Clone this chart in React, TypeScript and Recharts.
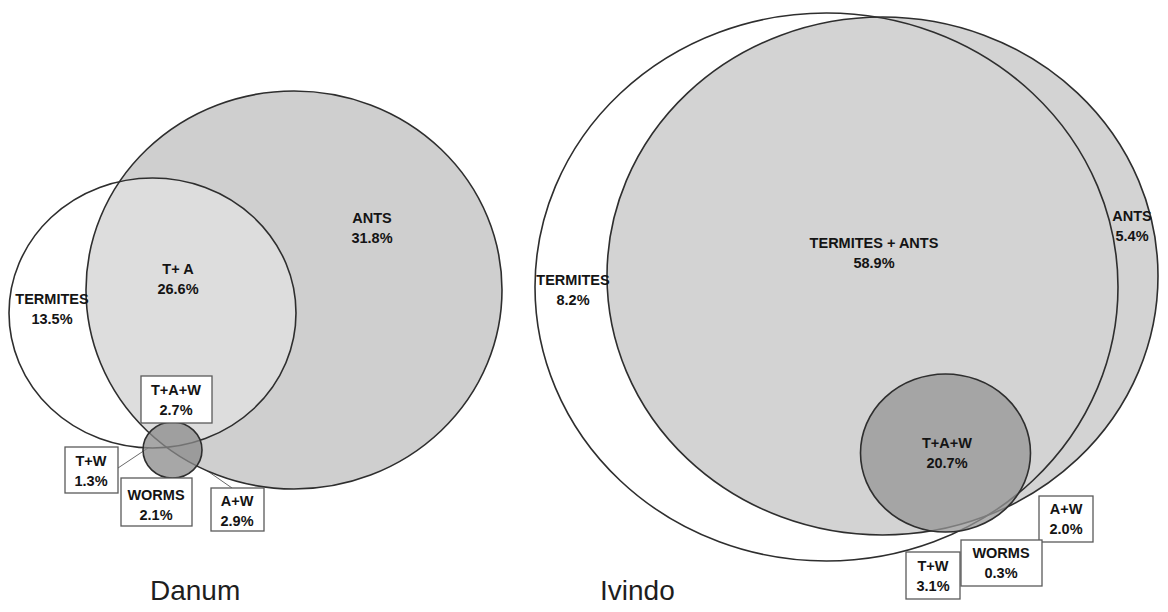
import React from 'react';
import { ScatterChart, Scatter, XAxis, YAxis, ReferenceLine } from 'recharts';

// ---------- chart frame ----------
const W = 1168;
const H = 612;
const X_DOMAIN: [number, number] = [0, 1168];
const Y_DOMAIN: [number, number] = [0, 612];
const KX = W / (X_DOMAIN[1] - X_DOMAIN[0]);
const KY = H / (Y_DOMAIN[1] - Y_DOMAIN[0]);

// ---------- data ----------
const sites = ['Danum', 'Ivindo'];
const setNames = ['TERMITES', 'ANTS', 'WORMS'];

// Venn set geometry (diagram units)
const danumCx = [152.5, 294, 172.5];
const danumCy = [313, 290, 450];
const danumRx = [143.5, 208, 29.5];
const danumRy = [135, 199, 28];

const ivindoCx = [826.5, 882.5, 945.5];
const ivindoCy = [287, 276, 453];
const ivindoRx = [291.5, 275.5, 85];
const ivindoRy = [274, 259, 79];

// region labels and percentages
const danumRegions = ['ANTS', 'T+ A', 'TERMITES', 'T+A+W', 'T+W', 'WORMS', 'A+W'];
const danumPct = ['31.8%', '26.6%', '13.5%', '2.7%', '1.3%', '2.1%', '2.9%'];
const danumLabelX = [372, 178, 52, 176, 91, 156, 237];
const danumLabelY = [218, 269, 299, 390, 461, 495, 501];

const ivindoRegions = ['ANTS', 'TERMITES + ANTS', 'TERMITES', 'T+A+W', 'A+W', 'WORMS', 'T+W'];
const ivindoPct = ['5.4%', '58.9%', '8.2%', '20.7%', '2.0%', '0.3%', '3.1%'];
const ivindoLabelX = [1132, 874, 573, 947, 1066, 1001, 933];
const ivindoLabelY = [216, 243, 280, 443, 509, 553, 566];

const siteLabelX = [150, 600];
const siteLabelY = [600, 600];

// ---------- layout / style (not data) ----------
const BOXES: Record<string, [number, number, number, number]> = {
  'Danum:T+A+W': [141, 376, 212, 423],
  'Danum:T+W': [65, 447, 118, 493],
  'Danum:WORMS': [121, 478, 192, 526],
  'Danum:A+W': [211, 488, 264, 531],
  'Ivindo:A+W': [1039, 496, 1093, 542],
  'Ivindo:WORMS': [961, 540, 1042, 586],
  'Ivindo:T+W': [906, 552, 960, 599],
};

const SET_STYLE: Record<string, { fill: string; opacity: number; layer: number; order: number }> = {
  'Danum:ANTS': { fill: '#cfcfcf', opacity: 1, layer: 0, order: 0 },
  'Danum:TERMITES': { fill: '#ffffff', opacity: 0.3, layer: 0, order: 1 },
  'Danum:WORMS': { fill: '#8a8a8a', opacity: 0.75, layer: 1, order: 2 },
  'Ivindo:TERMITES': { fill: '#ffffff', opacity: 1, layer: 0, order: 0 },
  'Ivindo:ANTS': { fill: '#d3d3d3', opacity: 1, layer: 0, order: 1 },
  'Ivindo:WORMS': { fill: '#959595', opacity: 0.75, layer: 1, order: 2 },
};

const FONT = '"Liberation Sans", Arial, Helvetica, sans-serif';

// ---------- build tables ----------
const geom = [
  { cx: danumCx, cy: danumCy, rx: danumRx, ry: danumRy },
  { cx: ivindoCx, cy: ivindoCy, rx: ivindoRx, ry: ivindoRy },
];

const circles = sites
  .flatMap((site, si) =>
    setNames.map((set, k) => ({
      site,
      set,
      key: `${site}:${set}`,
      x: geom[si].cx[k],
      y: geom[si].cy[k],
      rx: geom[si].rx[k],
      ry: geom[si].ry[k],
    }))
  )
  .sort((a, b) => SET_STYLE[a.key].order - SET_STYLE[b.key].order);

const labelSrc = [
  { site: 'Danum', regions: danumRegions, pct: danumPct, lx: danumLabelX, ly: danumLabelY },
  { site: 'Ivindo', regions: ivindoRegions, pct: ivindoPct, lx: ivindoLabelX, ly: ivindoLabelY },
];
const labels = labelSrc.flatMap((s) =>
  s.regions.map((r, i) => ({
    key: `${s.site}:${r}`,
    name: r,
    pct: s.pct[i],
    x: s.lx[i],
    y: s.ly[i],
  }))
);

const siteLabels = sites.map((s, i) => ({ name: s, x: siteLabelX[i], y: siteLabelY[i] }));

// ---------- shapes ----------
const makeEllipse = (mode: 'fill' | 'outline' | 'both') => (props: any) => {
  const { cx, cy, payload } = props;
  if (cx == null || cy == null || !payload) return <g />;
  const st = SET_STYLE[payload.key];
  return (
    <ellipse
      cx={cx}
      cy={cy}
      rx={payload.rx * KX}
      ry={payload.ry * KY}
      fill={mode === 'outline' ? 'none' : st.fill}
      fillOpacity={st.opacity}
      stroke={mode === 'fill' ? 'none' : '#2e2e2e'}
      strokeWidth={1.6}
    />
  );
};

const LabelShape = (props: any) => {
  const { cx, cy, payload } = props;
  if (cx == null || cy == null || !payload) return <g />;
  const box = BOXES[payload.key];
  const textStyle = { fontFamily: FONT, fontWeight: 700, fontSize: 14.5, fill: '#141414' } as const;
  return (
    <g>
      {box && (
        <rect
          x={cx + (box[0] - payload.x) * KX}
          y={cy + (box[1] - payload.y) * KY}
          width={(box[2] - box[0]) * KX}
          height={(box[3] - box[1]) * KY}
          fill="#ffffff"
          stroke="#5a5a5a"
          strokeWidth={1.3}
        />
      )}
      <text x={cx} y={cy} textAnchor="middle" dominantBaseline="central" style={textStyle}>
        {payload.name}
      </text>
      <text x={cx} y={cy + 20 * KY} textAnchor="middle" dominantBaseline="central" style={textStyle}>
        {payload.pct}
      </text>
    </g>
  );
};

const SiteShape = (props: any) => {
  const { cx, cy, payload } = props;
  if (cx == null || cy == null || !payload) return <g />;
  return (
    <text x={cx} y={cy} textAnchor="start" style={{ fontFamily: FONT, fontSize: 28, fill: '#1e1e1e' }}>
      {payload.name}
    </text>
  );
};

// leader lines (diagram units)
const leaders = [
  { x1: 118, y1: 468, x2: 148, y2: 448 },
  { x1: 196, y1: 463, x2: 232, y2: 488 },
];

export default function App() {
  const bigFills = circles.filter((c) => SET_STYLE[c.key].layer === 0);
  const small = circles.filter((c) => SET_STYLE[c.key].layer === 1);
  return (
    <div style={{ position: 'absolute', left: 0, top: 0, width: W, height: H, background: '#ffffff' }}>
      <ScatterChart width={W} height={H} margin={{ top: 0, right: 0, bottom: 0, left: 0 }}>
        <XAxis type="number" dataKey="x" domain={X_DOMAIN} allowDataOverflow hide />
        <YAxis type="number" dataKey="y" domain={Y_DOMAIN} allowDataOverflow reversed hide />
        <Scatter data={bigFills} shape={makeEllipse('fill')} isAnimationActive={false} />
        <Scatter data={bigFills} shape={makeEllipse('outline')} isAnimationActive={false} />
        <Scatter data={small} shape={makeEllipse('both')} isAnimationActive={false} />
        {leaders.map((l, i) => (
          <ReferenceLine
            key={i}
            segment={[{ x: l.x1, y: l.y1 }, { x: l.x2, y: l.y2 }]}
            stroke="#6a6a6a"
            strokeWidth={1}
          />
        ))}
        <Scatter data={labels} shape={LabelShape} isAnimationActive={false} />
        <Scatter data={siteLabels} shape={SiteShape} isAnimationActive={false} />
      </ScatterChart>
    </div>
  );
}
